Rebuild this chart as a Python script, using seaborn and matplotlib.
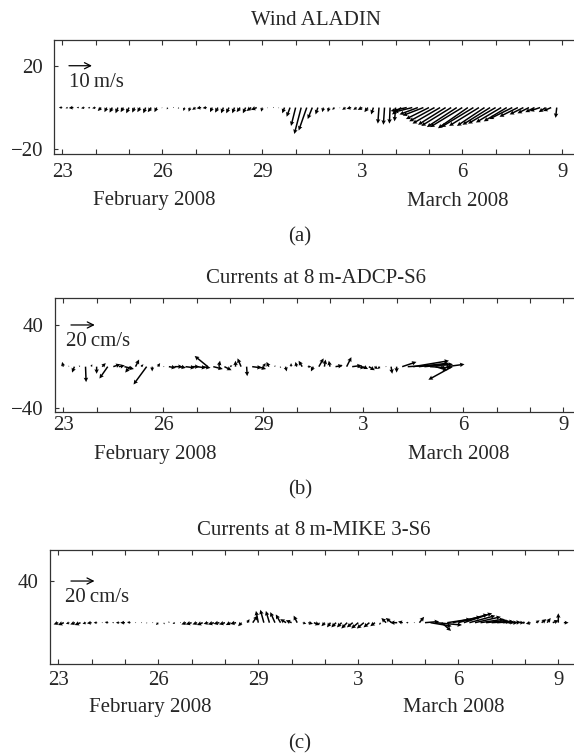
import numpy as np
import pandas as pd
import matplotlib
matplotlib.use("Agg")
import matplotlib.pyplot as plt
import matplotlib.dates as mdates
from matplotlib.ticker import FixedLocator, FuncFormatter, NullFormatter
import seaborn as sns

# %% data, 4-hourly samples from 23 Feb 2008 00h (one row per day)
wind_u = [
    -1.5, -1.0, -2.0, -1.0, -1.5, -1.0,
    -1.5, -1.5, -1.0, -1.2, -1.0, -1.2,
    -1.2, -1.0, -1.2, -1.0, -1.5, -1.0,
    -0.3, -0.5, -0.2, -0.5, -0.5, -0.6,
    -1.5, -2.0, -1.8, -1.0, -1.2, -1.0,
    -1.2, -1.0, -1.5, -1.2, -2.0, -2.5,
    -0.5, -0.3, -0.2, -0.3, -1.0, -1.5,
    -2.0, -3.0, -3.5, -2.0, -1.0, -0.5,
    -0.5, -1.0, -0.3, -1.5, -2.0, -1.5,
    -2.0, -1.5, -1.0, -0.5, -0.5, -0.3,
    -0.5, -4.0, -7.0, -8.0, -8.0, -9.0,
    -10.0, -11.0, -12.0, -12.0, -13.0, -13.0,
    -14.0, -13.0, -14.0, -13.0, -12.0, -12.0,
    -12.0, -11.0, -10.0, -10.0, -8.0, -6.0,
    -5.0, -4.0, -4.5, -3.0, -3.5, -0.5,
]
wind_v = [
    0.0, -0.3, -0.2, 0.0, -0.3, -0.2,
    -0.3, -1.5, -2.0, -2.2, -2.5, -2.0,
    -2.5, -2.2, -2.0, -2.5, -2.0, -2.0,
    -0.3, -0.8, -0.2, -0.5, -1.5, -1.8,
    -1.0, -0.3, -0.2, -2.0, -2.2, -2.5,
    -2.5, -2.5, -2.0, -2.5, -1.5, -1.0,
    -1.8, -0.3, -0.2, -0.3, -2.5, -4.0,
    -8.0, -11.5, -10.0, -5.0, -3.0, -2.0,
    -2.0, -1.0, -0.3, -1.0, -0.5, -1.0,
    -1.0, -2.0, -3.0, -7.0, -7.5, -7.0,
    -6.0, -3.0, -1.5, -2.0, -3.0, -3.5,
    -5.0, -6.0, -7.0, -7.5, -8.0, -8.5,
    -8.5, -9.0, -8.5, -8.0, -8.0, -7.5,
    -7.0, -6.5, -6.0, -5.0, -4.0, -3.0,
    -2.5, -2.0, -1.5, -2.0, -1.5, -4.5,
]

adcp_u = [
    -1, 0, -2, -1, 0.5, 1,
    0, 3, -7, 6, 5, 8,
    -4, 3, 2, -11, 0, 2,
    1, 6, 7, 5, 8, 7,
    8, 7, -11, 8, 1, 6,
    2, 0, -3, 0.5, 8, 7,
    2, -2, 1, 1, 1, 0,
    -1, -3, 3, -2, 4, 1,
    -1, 6, 0, 4, 8, 6,
    4, 5, 3, -2, 1, 1,
    0, 12, 38, 30, 25, 22,
    18, 10, 4, 15, -20,
]
adcp_v = [
    4, 1, -5, 1, -13, 2,
    -6, 3, -10, 2, 1, -2,
    -5, 6, 2, -15, -4, 3,
    0, -1, 0, -1, -1, 0,
    -1, -1, 9, -2, 5, -3,
    1, 5, 7, -8, -1, -2,
    3, 4, 1, -1, -4, 3,
    4, 5, 0, -4, 7, 6,
    5, 1, 2, 8, 1, -1,
    -2, -3, -2, -2, 0, -6,
    -5, 4, 2, 5, 3, 2,
    -1, -3, -2, 2, -11,
]

mike_u = [
    -4, -5, -3, -4, -5, -3,
    -4, -3, -1, -3, -1.5, -3,
    -4, -3, -1, 0.5, -1, 0,
    -2, 0.5, -1, -2, 0.5, -4,
    -5, -4, -5, -4, -5, -5,
    -5, -4, -5, -3, 2, 4,
    -2, -3, -3, -4, -4, -5,
    -5, -3, 3, 4, 5, -1,
    -3, -3, -4, -4, -5, -5,
    -6, -6, -5, -4, -1, -4,
    -5, -6, -4, -2, 1, 4,
    12, 18, 22, 8, 20, 24,
    25, 24, 22, 22, 20, 18,
    16, 14, 10, 8, 6, 4,
    -3, -4, 3, 4, 3, 5,
    0, 4,
]
mike_v = [
    -1.5, -2, -1, -1.5, -2, -1,
    -0.5, 0, 0, 0.5, 0, 0,
    0, 0.5, 0, 0, -0.5, 0,
    -2, -1.5, 1, -1, 0, -1.5,
    -1.5, -1.5, -2, -1, -1.5, -1,
    -1.5, -2, -1, -3, 3, 6,
    10, 11, 10, 9, 7, 3,
    2, 6, -1, -1, -2, -2,
    -3, -4, -4, -4, -5, -4,
    -5, -5, -4, -3, -2, 4,
    4, 0, 1, 0, 0, 5,
    1, -3, -2, -7, 3, 5,
    7, 8, 6, 5, 3, 2,
    1, 1, 0.5, 0, 0.5, 0,
    0, -1, 2, 3, 4, 2,
    8, 0,
]

titles = ["Wind ALADIN", "Currents at 8\u2009m-ADCP-S6", "Currents at 8\u2009m-MIKE 3-S6"]
key_labels = ["10\u2009m/s", "20\u2009cm/s", "20\u2009cm/s"]
key_values = [10, 20, 20]
sublabels = ["(a)", "(b)", "(c)"]
month_labels = ["February 2008", "March 2008"]

# %%
sns.set_theme(style="ticks")
FS = 15
plt.rcParams["font.family"] = ["Liberation Serif", "DejaVu Serif"]
plt.rcParams["font.size"] = FS
plt.rcParams["axes.edgecolor"] = "#333333"
plt.rcParams["axes.linewidth"] = 0.9

W, H = 574, 754
fig = plt.figure(figsize=(W / 100, H / 100), dpi=100)

start = pd.Timestamp("2008-02-23")
t0 = mdates.date2num(start)

# layout in pixels: left, top, right, bottom, x of the 23 tick
boxes = [(54.3, 40, 577, 154, 62.3), (55, 298.3, 577, 412.3, 63.3), (50, 550, 577, 663.7, 58.3)]
ylims = [(-22.2, 32.3), (-43.8, 65.6), (-39.4, 69.8)]
yticks = [[-20, 20], [-40, 40], [40]]
scales = [43.5, 84, 85]
key_y = [20, 40, 40]
key_tail = [0.2, 0.23, 0.38]
key_text_dx = [0, -5, -6]
tick_pad = [6.5, 2.5, 5]
month_off = [47, 42, 44]
sub_y = [237, 490, 744]
series = [(wind_u, wind_v), (adcp_u, adcp_v), (mike_u, mike_v)]

day_ticks = mdates.date2num(pd.date_range("2008-02-23", "2008-03-09", freq="D"))
major_ticks = mdates.date2num(pd.date_range("2008-02-23", "2008-03-09", freq="3D"))

for i, (u, v) in enumerate(series):
    left, top, right, bottom, x23 = boxes[i]
    ax = fig.add_axes([left / W, 1 - bottom / H, (right - left) / W, (bottom - top) / H])
    times = mdates.date2num(pd.date_range(start, periods=len(u), freq="4h"))
    ax.quiver(times, np.zeros(len(u)), u, v, angles="uv", scale_units="inches",
              scale=scales[i], units="dots", width=1.5, headwidth=3.0,
              headlength=3.0, headaxislength=2.7, minshaft=1.2, minlength=0.6,
              pivot="tail", color="black")
    px_day = 100 / 3
    ax.set_xlim(t0 - (x23 - left) / px_day, t0 + (right - x23) / px_day)
    ax.set_ylim(*ylims[i])
    ax.set_yticks(yticks[i])
    ax.xaxis.set_major_locator(FixedLocator(major_ticks))
    ax.xaxis.set_minor_locator(FixedLocator(day_ticks))
    ax.xaxis.set_major_formatter(FuncFormatter(lambda x, p: str(mdates.num2date(x).day)))
    ax.xaxis.set_minor_formatter(NullFormatter())
    ax.tick_params(axis="x", which="both", direction="in", top=True, length=3.6,
                   width=0.8, color="#333333", pad=tick_pad[i], labelsize=FS)
    ax.tick_params(axis="y", direction="in", length=3.2, width=0.8, color="#333333",
                   pad=8, labelsize=FS)
    ax.set_title(titles[i], pad=11, fontsize=FS)

    # scale arrow
    tail = (t0 + key_tail[i], key_y[i])
    tail_px = ax.transData.transform(tail)
    head = ax.transData.inverted().transform(tail_px + np.array([key_values[i] / scales[i] * 100, 0]))
    ax.annotate("", xy=head, xytext=tail,
                arrowprops=dict(arrowstyle="->", lw=0.9, color="black",
                                shrinkA=0, shrinkB=0, mutation_scale=11))
    ax.annotate(key_labels[i], xy=tail, xytext=(key_text_dx[i] * 0.72, -12),
                textcoords="offset points", ha="left", va="center")

    for m, d in zip(month_labels, [2.75, 11.85]):
        ax.annotate(m, xy=(t0 + d, 0), xycoords=("data", "axes fraction"),
                    xytext=(0, -month_off[i] * 0.72), textcoords="offset points",
                    ha="center", va="center")
    fig.text(300 / W, 1 - sub_y[i] / H, sublabels[i], ha="center", va="center")

fig.savefig("out.png", dpi=100)
